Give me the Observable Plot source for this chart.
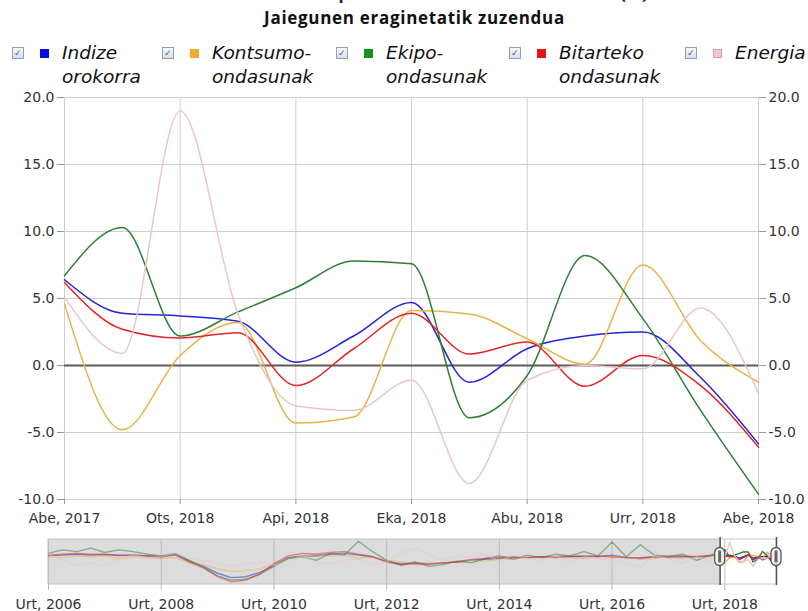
<!DOCTYPE html>
<html><head><meta charset="utf-8">
<script src="https://cdn.jsdelivr.net/npm/d3@7"></script>
<script src="https://cdn.jsdelivr.net/npm/@observablehq/plot@0.6"></script>
<style>
body{margin:0;width:808px;height:611px;overflow:hidden;background:#fff;position:relative;font-family:"DejaVu Sans",sans-serif}
#title{position:absolute;left:0;width:854px;top:-19px;text-align:center;font:bold 17px/24px "Open Sans",sans-serif;color:#222;white-space:nowrap;letter-spacing:0.4px}
#subtitle{position:absolute;left:0;width:829px;top:6px;text-align:center;font:bold 17px/24px "Open Sans",sans-serif;color:#111;white-space:nowrap;letter-spacing:0.7px}
.item{position:absolute;top:41px;height:50px}
.cb{position:absolute;left:0;top:6px;width:10px;height:10px;border:1px solid #8e9fb8;background:linear-gradient(#f7f8fb,#d9dfe9);}
.cb span{position:absolute;left:1px;top:-1px;font:bold 9px/12px "DejaVu Sans";color:#3d5f96}
.sw{position:absolute;left:28px;top:8px;width:9px;height:9px;box-sizing:border-box}
.lab{position:absolute;left:50px;top:0px;font:italic 18.5px/23.7px "DejaVu Sans",sans-serif;color:#111;white-space:nowrap}
#main{position:absolute;left:0;top:90px}
#nav{position:absolute;left:0;top:530px}
</style></head>
<body>
<div id="title">Industria ekoizpenaren indizearen aldakuntza (%)</div>
<div id="subtitle">Jaiegunen eraginetatik zuzendua</div>
<div id="legend"></div>
<div id="main"></div>
<div id="nav"></div>
<script>
// ---- Main chart data (Abe 2017 – Abe 2018) ----
const months = ["Abe, 2017","Urt, 2018","Ots, 2018","Mar, 2018","Api, 2018","Mai, 2018","Eka, 2018","Uzt, 2018","Abu, 2018","Ira, 2018","Urr, 2018","Aza, 2018","Abe, 2018"];
const seriesNames = ["Indize orokorra","Kontsumo-ondasunak","Ekipo-ondasunak","Bitarteko ondasunak","Energia"];
const legendLines = [["Indize","orokorra"],["Kontsumo-","ondasunak"],["Ekipo-","ondasunak"],["Bitarteko","ondasunak"],["Energia",""]];
const lineColors = ["#2525d8","#e8b445","#2e7f32","#e02626","#e9c5cd"];
const swatchColors = ["#0b0be6","#f4a82e","#13951b","#e8121a","#f6c8d0"];

const indize     = [6.4, 3.9, 3.7, 3.3, 0.25, 2.2, 4.7, -1.25, 1.25, 2.2, 2.5, -0.9, -5.85];
const kontsumo   = [4.6, -4.8, 0.75, 3.2, -4.3, -3.85, 4.1, 3.85, 2.0, 0.1, 7.5, 1.85, -1.25];
const ekipo      = [6.7, 10.3, 2.2, 4.0, 5.8, 7.8, 7.6, -3.9, -0.75, 8.2, 3.5, -3.35, -9.6];
const bitarteko  = [6.2, 2.7, 2.05, 2.45, -1.5, 1.25, 3.9, 0.85, 1.75, -1.55, 0.75, -1.5, -6.1];
const energia    = [5.1, 0.9, 19.0, 3.85, -3.0, -3.35, -1.1, -8.8, -1.1, 0.0, -0.25, 4.3, -2.1];

// ---- Navigator data: quarterly 2006 Urt .. 2017 Urr (approx. read from the overview strip) ----
const navStartYear = 2006;
const navTickLabels = ["Urt, 2006","Urt, 2008","Urt, 2010","Urt, 2012","Urt, 2014","Urt, 2016","Urt, 2018"];
const navIndize    = [3.5,4,5,4, 4.5,3.5,4,3, 2,5,-3,-9, -17,-22,-21,-16, -8,1,3,3, 5,6,4,2, -3,-6,-5,-6, -5,-4,-2,-1, 0,1,1,2, 1,2,3,2, 4,1,0,2, 1,2,2,3];
const navKontsumo  = [2,1,3,2, 3,0,2,1, 0,1,-5,-7, -12,-15,-14,-12, -6,0,2,5, 3,4,0,2, -2,-4,-6,-5, -6,-3,-2,-3, -1,0,2,1, 2,1,0,3, 1,2,-1,0, 2,0,3,2];
const navEkipo     = [6,10,8,12, 7,10,8,5, 3,6,-2,-10, -20,-25,-24,-18, -9,0,2,-2, 6,4,20,8, -2,-8,-4,-9, -7,-3,-5,0, 3,-1,4,1, 5,3,8,3, 19,2,16,4, 2,5,-2,4];
const navBitarteko = [4,5,6,5, 5,4,4,3, 2,4,-4,-11, -21,-27,-25,-18, -6,3,6,5, 7,8,5,2, -4,-7,-6,-7, -5,-4,-1,0, 1,2,1,2, 2,3,2,3, 2,1,1,2, 3,3,2,4];
const navEnergia   = [5,-2,-8,-5, -9,0,4,1, 2,6,0,-3, -5,-9,-6,-4, -8,-3,3,-4, -6,-2,0,-8, -4,6,12,5, -2,3,0,5, -3,4,0,-2, 3,-4,2,0, -2,-5,-10,3, 0,-6,2,-3];

// ---- Legend (HTML) ----
const legendX = [12,162,336,509,685];
const legend = document.getElementById("legend");
seriesNames.forEach((n,k)=>{
  const it = document.createElement("div");
  it.className="item"; it.style.left = legendX[k]+"px";
  it.innerHTML = `<div class="cb"><span>✓</span></div><div class="sw" style="background:${swatchColors[k]};${k===4?'border:1px solid #c9a0a8':''}"></div><div class="lab">${legendLines[k][0]}<br>${legendLines[k][1]}</div>`;
  legend.appendChild(it);
});

// ---- Main chart ----
const mainValues = [indize,kontsumo,ekipo,bitarteko,energia];
const rows = mainValues.flatMap((vals,k)=>vals.map((v,i)=>({series:seriesNames[k], i, v})));
const fmt = d => d.toFixed(1);
const main = Plot.plot({
  width: 808, height: 440,
  marginTop: 7, marginBottom: 31, marginLeft: 64, marginRight: 50,
  style: {fontFamily:"DejaVu Sans", fontSize:"14px", color:"#333", background:"transparent", overflow:"visible"},
  x: {type:"linear", domain:[0, months.length-1], axis:null},
  y: {domain:[-10, 20], axis:null},
  color: {domain: seriesNames, range: lineColors},
  marks: [
    Plot.gridX({ticks: 6, stroke:"#cfcfcf", strokeOpacity:1}),
    Plot.gridY({ticks: 6, stroke:"#cfcfcf", strokeOpacity:1}),
    Plot.ruleY([0], {stroke:"#5a5a5a", strokeWidth:2}),
    Plot.line(rows, {x:"i", y:"v", z:"series", stroke:"series", curve:"monotone-x", strokeWidth:1.5}),
    Plot.axisX({ticks: 6, tickFormat: i => months[i], tickSize: 5, tickPadding: 9, stroke:"#999", fill:"#333", label:null}),
    Plot.axisY({anchor:"left", ticks: 6, tickFormat: fmt, tickSize: 7, tickPadding: 3, stroke:"#999", fill:"#333", label:null}),
    Plot.axisY({anchor:"right", ticks: 6, tickFormat: fmt, tickSize: 7, tickPadding: 3, stroke:"#999", fill:"#333", label:null})
  ]
});
document.getElementById("main").appendChild(main);

// ---- Navigator ----
const winStart = (2017 - navStartYear)*12 + 11;   // Abe 2017
const winEnd = winStart + months.length - 1;      // Abe 2018
const navHist = [navIndize,navKontsumo,navEkipo,navBitarteko,navEnergia];
const navRows = navHist.flatMap((vals,k)=>[
  ...vals.map((v,q)=>({series:seriesNames[k], t:q*3, v})),
  ...mainValues[k].map((v,i)=>({series:seriesNames[k], t:winStart+i, v}))
]);
const navTicks = navTickLabels.map((_,j)=>j*24);
const nav = Plot.plot({
  width: 808, height: 81,
  marginTop: 9, marginBottom: 27, marginLeft: 48, marginRight: 32,
  style: {fontFamily:"DejaVu Sans", fontSize:"14px", color:"#333", background:"transparent", overflow:"visible"},
  x: {type:"linear", domain:[0, winEnd], axis:null},
  y: {domain:[-30, 22], axis:null},
  color: {domain: seriesNames, range: lineColors},
  marks: [
    Plot.rect([{a:0,b:winStart}], {x1:"a", x2:"b", fill:"#dcdcdc", stroke:"#c2c2c2"}),
    Plot.rect([{a:winStart,b:winEnd}], {x1:"a", x2:"b", fill:"#fff", stroke:"#c8c8c8"}),
    Plot.gridX(navTicks, {stroke:"#bdbdbd", strokeOpacity:1}),
    Plot.line(navRows, {x:"t", y:"v", z:"series", stroke:"series", strokeWidth:1.4, strokeOpacity:0.5}),
    Plot.line(navRows.filter(d=>d.t>=winStart), {x:"t", y:"v", z:"series", stroke:"series", strokeWidth:1.1}),
    Plot.axisX({ticks: navTicks, tickFormat: t => navTickLabels[t/24], tickSize: 6, tickPadding: 9, stroke:"#bbb", fill:"#333", label:null}),
    Plot.ruleX([winStart, winEnd], {stroke:"#555", strokeWidth:1.5, insetTop:-2, insetBottom:-1})
  ]
});
document.getElementById("nav").appendChild(nav);
// handles
const sx = nav.scale("x"), sy = nav.scale("y");
const cy = (sy.range[0] + sy.range[1]) / 2 - 5;
const svg = d3.select(nav);
[winStart, winEnd].forEach(t=>{
  const x = sx.apply(t);
  svg.append("rect").attr("x", x-5).attr("y", cy-9).attr("width",10).attr("height",18).attr("rx",5)
     .attr("fill","#f2f2f2").attr("stroke","#555").attr("stroke-width",1.3);
  svg.append("rect").attr("x", x-1.5).attr("y", cy-6).attr("width",3).attr("height",12).attr("fill","#666");
});
</script>
</body></html>
